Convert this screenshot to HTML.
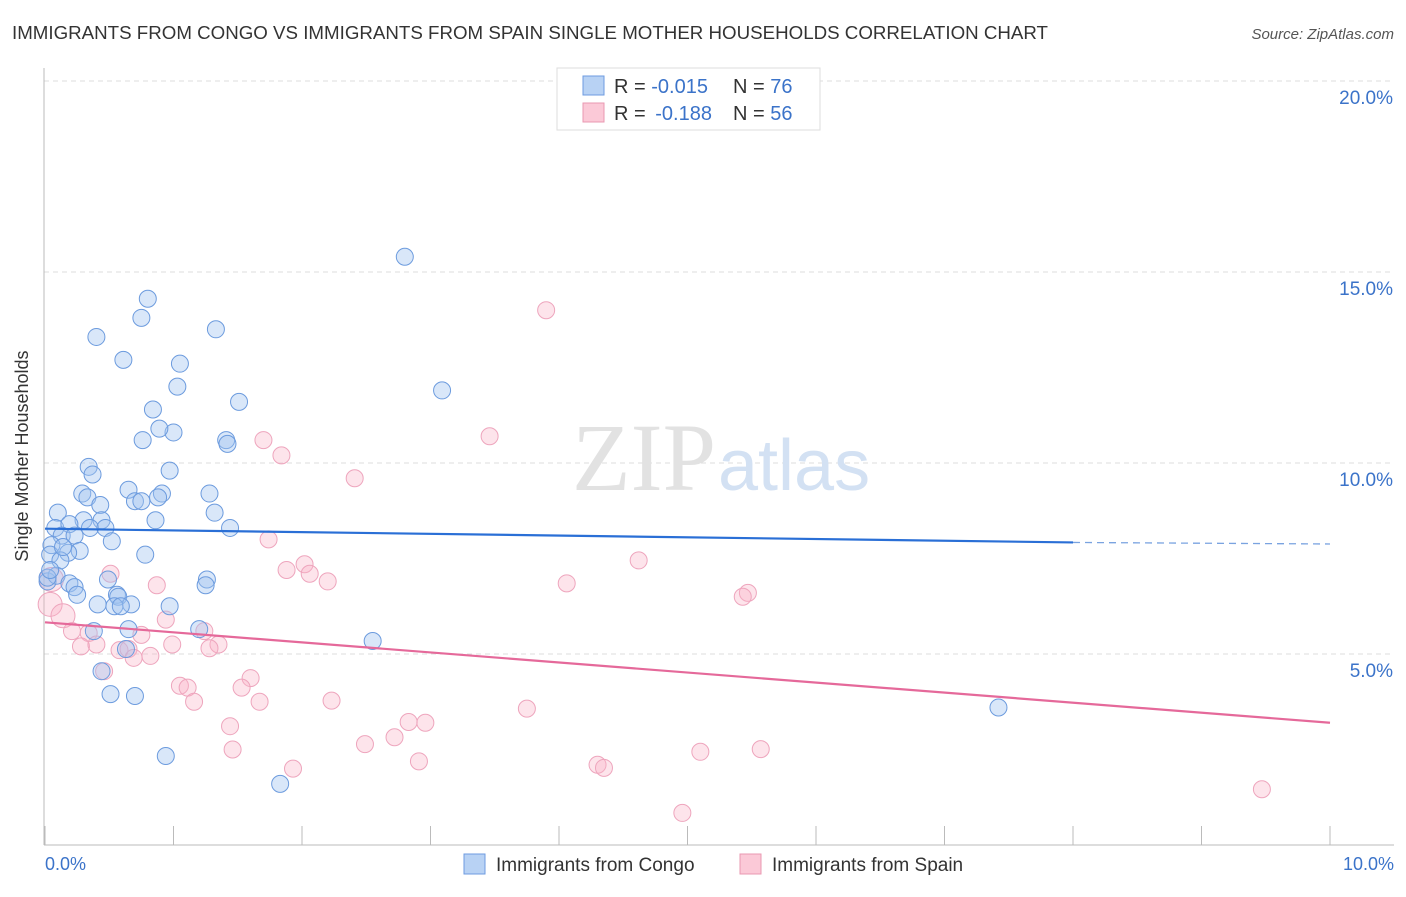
<!DOCTYPE html>
<html><head><meta charset="utf-8"><style>
body{margin:0;background:#fff;font-family:"Liberation Sans",sans-serif;}
</style></head><body>
<svg width="1406" height="892" xmlns="http://www.w3.org/2000/svg" style="font-family:'Liberation Sans',sans-serif">
<text x="12" y="39" font-size="18" fill="#333" textLength="1036" lengthAdjust="spacingAndGlyphs">IMMIGRANTS FROM CONGO VS IMMIGRANTS FROM SPAIN SINGLE MOTHER HOUSEHOLDS CORRELATION CHART</text>
<text x="1394" y="39" font-size="15" fill="#555" font-style="italic" text-anchor="end">Source: ZipAtlas.com</text>
<g id="grid"></g>
<text x="716" y="490" font-size="96" fill="#e2e2e2" text-anchor="end" font-family="Liberation Serif">ZIP</text>
<text x="718" y="490" font-size="72" fill="#d3e1f3">atlas</text>
<line x1="44" y1="68" x2="44" y2="845" stroke="#bbb"/>
<line x1="44" y1="845" x2="1394" y2="845" stroke="#bbb"/>
<g id="ticks"></g>
<g id="pts"></g>
<g id="trend"></g>
<text x="28" y="456" font-size="18" fill="#333" text-anchor="middle" transform="rotate(-90 28 456)">Single Mother Households</text>
<text x="45" y="870" font-size="18" fill="#3b73c9">0.0%</text>
<text x="1394" y="870" font-size="18" fill="#3b73c9" text-anchor="end">10.0%</text>
<g>
<rect x="557" y="68" width="263" height="62" fill="#fff" stroke="#ddd"/>
<rect x="583" y="76" width="21" height="19" fill="#b8d2f4" stroke="#6e9be0"/>
<rect x="583" y="103" width="21" height="19" fill="#fbc9d7" stroke="#ea98b2"/>
<text x="614" y="93" font-size="20" fill="#333">R = <tspan fill="#3b73c9">-0.015</tspan><tspan x="733">N = </tspan><tspan fill="#3b73c9">76</tspan></text>
<text x="614" y="120" font-size="20" fill="#333">R = <tspan fill="#3b73c9" dx="4">-0.188</tspan><tspan x="733">N = </tspan><tspan fill="#3b73c9">56</tspan></text>
</g>
<g>
<rect x="464" y="854" width="21" height="20" fill="#b8d2f4" stroke="#6e9be0"/>
<text x="496" y="871" font-size="19" fill="#333">Immigrants from Congo</text>
<rect x="740" y="854" width="21" height="20" fill="#fbc9d7" stroke="#ea98b2"/>
<text x="772" y="871" font-size="19" fill="#333">Immigrants from Spain</text>
</g>
</svg>
<script>
const yTicks=[5,10,15,20];
const yTickLabels=["5.0%","10.0%","15.0%","20.0%"];
const xTicks=[0,1,2,3,4,5,6,7,8,9,10];
const congoX=[2.80,0.80,0.75,1.33,0.40,0.61,1.05,1.03,3.09,1.51,0.84,1.00,0.89,0.76,1.41,1.42,0.97,0.34,0.37,0.29,0.33,0.65,0.91,0.88,0.70,0.75,1.28,0.43,1.32,0.10,0.30,0.44,0.86,0.08,0.19,0.35,0.47,1.44,0.13,0.23,0.52,0.05,0.27,0.18,0.78,0.04,0.12,0.02,0.09,0.19,0.23,0.25,0.49,1.26,1.25,0.56,0.57,0.41,0.67,0.54,0.59,0.97,0.38,0.65,1.20,2.55,0.63,0.44,0.51,0.70,7.42,0.94,1.83,0.02,0.04,0.14];
const congoY=[15.4,14.3,13.8,13.5,13.3,12.7,12.6,12.0,11.9,11.6,11.4,10.8,10.9,10.6,10.6,10.5,9.8,9.9,9.7,9.2,9.1,9.3,9.2,9.1,9.0,9.0,9.2,8.9,8.7,8.7,8.5,8.5,8.5,8.3,8.4,8.3,8.3,8.3,8.1,8.1,7.95,7.85,7.7,7.65,7.6,7.6,7.45,6.9,7.05,6.85,6.75,6.55,6.95,6.95,6.8,6.55,6.5,6.3,6.3,6.25,6.25,6.25,5.6,5.65,5.65,5.34,5.13,4.55,3.95,3.9,3.6,2.33,1.6,7.0,7.2,7.8];
const spainX=[3.90,3.46,1.70,1.84,2.41,1.74,4.62,2.02,1.88,2.06,2.20,4.06,0.87,0.51,5.47,5.43,0.05,0.04,0.14,0.94,0.21,0.34,0.75,1.24,0.28,0.40,0.58,0.65,0.82,0.69,1.35,1.28,0.99,0.46,1.60,1.05,1.11,1.53,1.16,1.67,2.23,3.75,1.44,2.83,2.96,2.72,2.49,1.46,5.10,5.57,2.91,4.30,4.35,1.93,4.96,9.47];
const spainY=[14.0,10.7,10.6,10.2,9.6,8.0,7.45,7.35,7.2,7.1,6.9,6.85,6.8,7.1,6.6,6.5,6.95,6.3,6.0,5.9,5.6,5.55,5.5,5.6,5.2,5.25,5.1,5.13,4.95,4.9,5.25,5.15,5.25,4.55,4.37,4.17,4.12,4.12,3.75,3.75,3.78,3.57,3.11,3.22,3.2,2.82,2.64,2.5,2.44,2.51,2.19,2.1,2.02,2.0,0.84,1.46];
const bigSpain=[16,17,18];
const congoTrend=[8.28,7.92,7.88];
const spainTrend=[5.83,3.2];
const NS="http://www.w3.org/2000/svg";
const X=v=>45+v*128.5, Y=v=>845-v*38.2;
function mk(t,a,p){const e=document.createElementNS(NS,t);for(const k in a)e.setAttribute(k,a[k]);p.appendChild(e);return e;}
const grid=document.getElementById('grid');
yTicks.forEach((t,i)=>{
 const l=mk('line',{x1:44,x2:1394,y1:Y(t),y2:Y(t),stroke:'#ddd','stroke-dasharray':'5,4'},grid);
 
 
 const tx=mk('text',{x:1393,y:Y(t)+23,'font-size':19,fill:'#3b73c9','text-anchor':'end'},grid);
 tx.textContent=yTickLabels[i];
 
 
});
const ticks=document.getElementById('ticks');
xTicks.forEach(t=>{const l=mk('line',{x1:X(t),x2:X(t),y1:826,y2:845,stroke:'#bbb'},ticks);
 
 });
const pts=document.getElementById('pts');
spainX.forEach((x,i)=>{const c=mk('circle',{cx:X(x),cy:Y(spainY[i]),r:bigSpain.includes(i)?12:8.5,fill:'rgba(248,178,198,0.35)',stroke:'#eea5bd','stroke-width':1},pts);
 
 });
congoX.forEach((x,i)=>{const c=mk('circle',{cx:X(x),cy:Y(congoY[i]),r:8.5,fill:'rgba(160,196,240,0.4)',stroke:'#6c9bde','stroke-width':1},pts);
 
 });
const tr=document.getElementById('trend');
let a=mk('line',{x1:X(0),y1:Y(congoTrend[0]),x2:X(8),y2:Y(congoTrend[1]),stroke:'#2a6fd6','stroke-width':2.2},tr);


let b=mk('line',{x1:X(8),y1:Y(congoTrend[1]),x2:X(10),y2:Y(congoTrend[2]),stroke:'#7aa3e0','stroke-width':1.3,'stroke-dasharray':'7,5'},tr);


let c=mk('line',{x1:X(0),y1:Y(spainTrend[0]),x2:X(10),y2:Y(spainTrend[1]),stroke:'#e5699a','stroke-width':2.2},tr);


</script>
</body></html>
